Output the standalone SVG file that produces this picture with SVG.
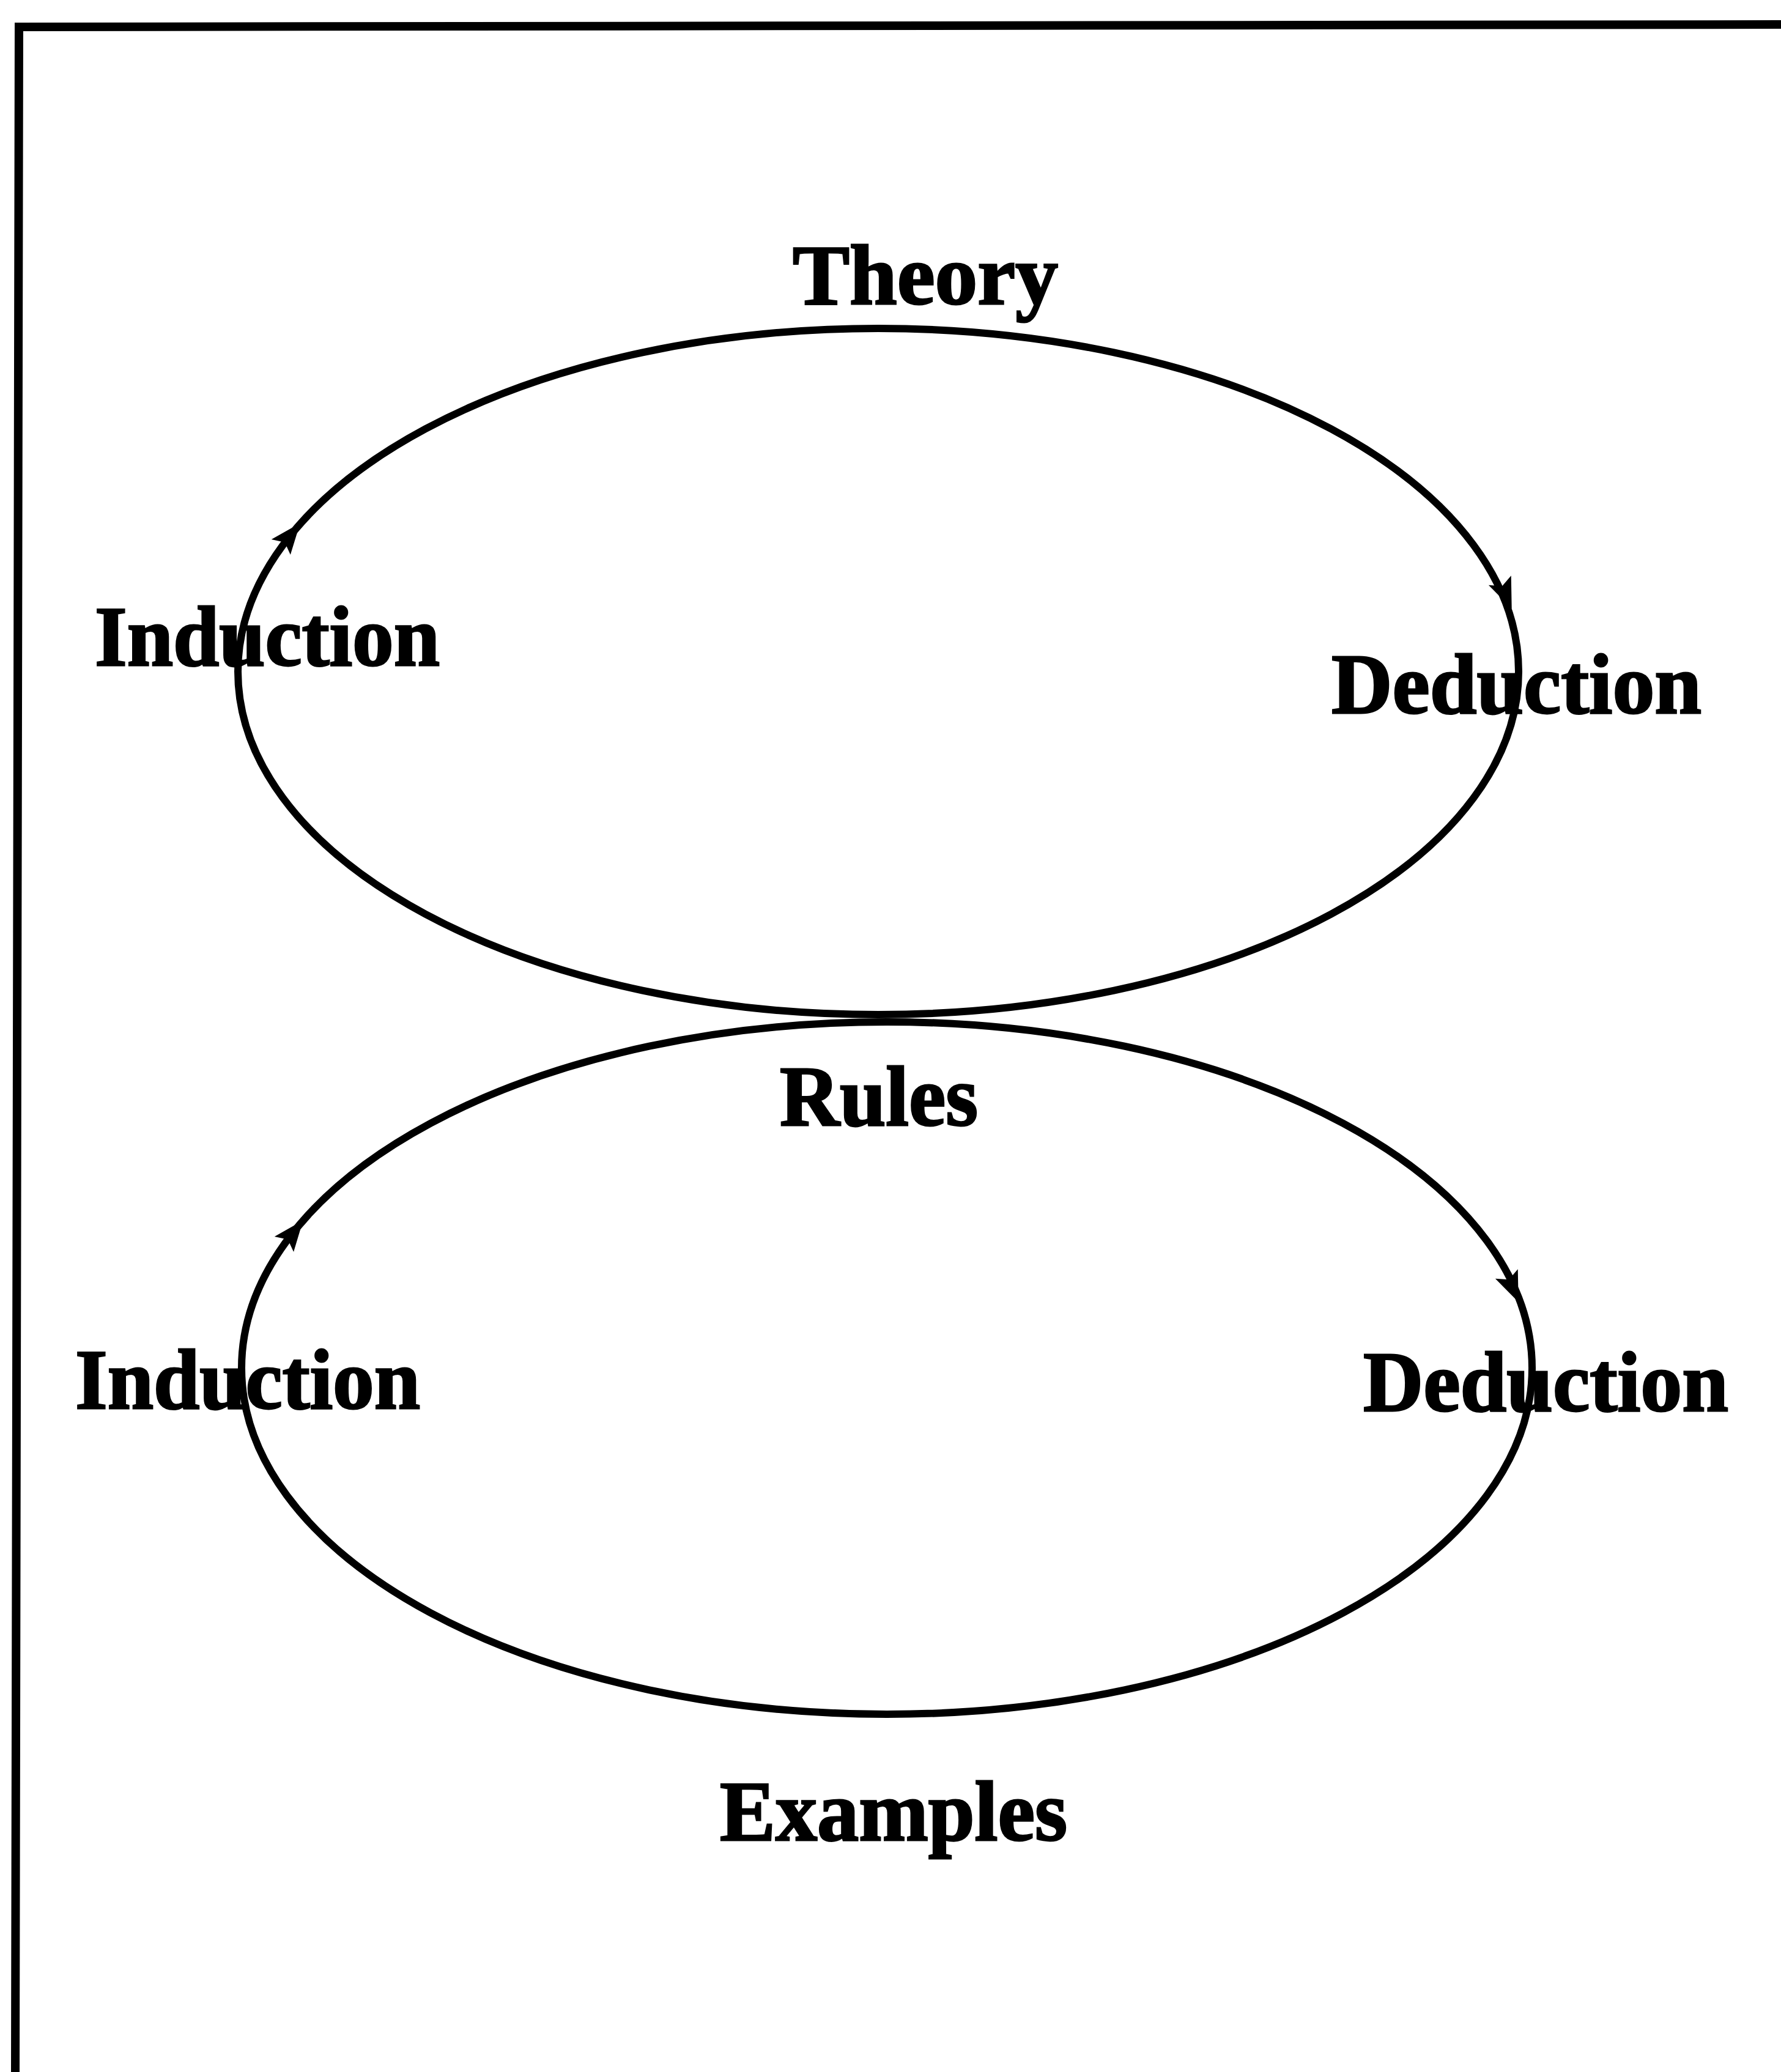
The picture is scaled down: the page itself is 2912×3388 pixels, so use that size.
<svg xmlns="http://www.w3.org/2000/svg" width="2912" height="3388" viewBox="0 0 2912 3388">
<style>
.lbl{font-family:"Liberation Serif","Times New Roman",serif;font-weight:bold;font-size:140px;fill:#000;stroke:#000;stroke-width:3}
.cyc{fill:none;stroke:#000;stroke-width:12}
.frame{fill:none;stroke:#000;stroke-width:14}
.tick{fill:none;stroke:none}
</style>
<defs>
<marker id="arr" markerUnits="userSpaceOnUse" markerWidth="50" markerHeight="44" refX="25" refY="22" orient="auto" viewBox="0 0 50 44">
<path d="M0,2 L50,22 L0,42 L10,22 Z" fill="#000"/>
</marker>
</defs>
<rect width="2912" height="3388" fill="#fff"/>
<g id="frame">
<path class="frame" d="M25,3388 L31,44 L2912,40"/>
</g>
<g id="connectors">
<ellipse class="cyc" cx="1436" cy="1098" rx="1047" ry="561"/>
<ellipse class="cyc" cx="1450" cy="2237" rx="1055" ry="566"/>
<path class="tick" d="M462.4,890.6 L475,875" marker-end="url(#arr)"/>
<path class="tick" d="M2454,953 L2462,972" marker-end="url(#arr)"/>
<path class="tick" d="M467.5,2030.7 L480,2015" marker-end="url(#arr)"/>
<path class="tick" d="M2465,2087 L2473,2106" marker-end="url(#arr)"/>
</g>
<g id="theory"><text class="lbl" x="1296" y="497" textLength="434" lengthAdjust="spacingAndGlyphs">Theory</text></g>
<g id="induction-top"><text class="lbl" x="155" y="1088" textLength="564" lengthAdjust="spacingAndGlyphs">Induction</text></g>
<g id="deduction-top"><text class="lbl" x="2177" y="1166" textLength="605" lengthAdjust="spacingAndGlyphs">Deduction</text></g>
<g id="rules"><text class="lbl" x="1275" y="1840" textLength="324" lengthAdjust="spacingAndGlyphs">Rules</text></g>
<g id="induction-bottom"><text class="lbl" x="123" y="2303" textLength="564" lengthAdjust="spacingAndGlyphs">Induction</text></g>
<g id="deduction-bottom"><text class="lbl" x="2229" y="2307" textLength="597" lengthAdjust="spacingAndGlyphs">Deduction</text></g>
<g id="examples"><text class="lbl" x="1177" y="3009" textLength="568" lengthAdjust="spacingAndGlyphs">Examples</text></g>
</svg>
